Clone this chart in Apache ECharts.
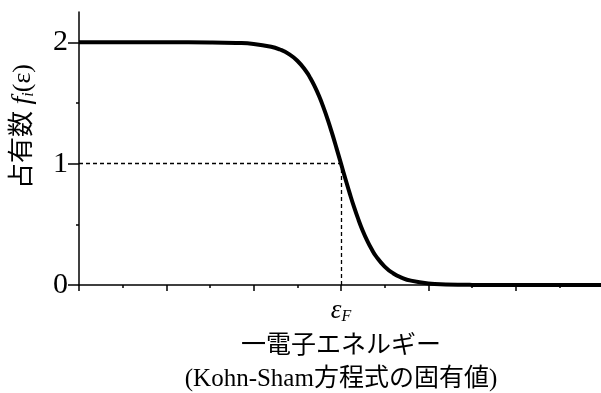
<!DOCTYPE html>
<html>
<head>
<meta charset="utf-8">
<script src="https://cdn.jsdelivr.net/npm/echarts@6/dist/echarts.min.js"></script>
<style>
  html, body { margin: 0; padding: 0; background: #fff; }
  #chart { width: 601px; height: 393px; }
</style>
</head>
<body>
<div id="chart"></div>
<script>
// energy relative to the Fermi level (units of the major tick spacing)
const energies = [-3, -2, -1.5, -1.2, -1, -0.8, -0.7, -0.6, -0.5, -0.4, -0.35, -0.3, -0.25, -0.2, -0.15, -0.1, -0.05, 0,
  0.05, 0.1, 0.15, 0.2, 0.25, 0.3, 0.35, 0.4, 0.5, 0.6, 0.7, 0.8, 1, 1.2, 1.5, 2, 3]
const occupations = [2, 2, 1.999, 1.995, 1.987, 1.964, 1.941, 1.905, 1.848, 1.762, 1.704, 1.635, 1.555, 1.462, 1.359, 1.245, 1.124, 1,
  0.876, 0.755, 0.641, 0.538, 0.445, 0.365, 0.296, 0.238, 0.152, 0.095, 0.059, 0.036, 0.013, 0.005, 0.001, 0, 0]
const yTicks = [0, 1, 2]
const yMinorTicks = [0.5, 1.5]
const fermiLevel = 0
const halfFilled = 1

const serif = '"Liberation Serif", "Noto Sans CJK JP", serif'
const ink = '#000'

const chart = echarts.init(document.getElementById('chart'), null, { renderer: 'canvas' })
chart.setOption({
  backgroundColor: '#fff',
  animation: false,
  grid: { left: 79, right: -2, top: 12, bottom: 108, outerBoundsMode: 'none', containLabel: false },
  xAxis: {
    type: 'value', min: -3, max: 3, interval: 1,
    axisLine: { onZero: false, lineStyle: { color: ink, width: 1.5 } },
    axisTick: { length: 6, lineStyle: { color: ink, width: 1.5 } },
    minorTick: { show: true, splitNumber: 2, length: 3, lineStyle: { color: ink, width: 1.5 } },
    splitLine: { show: false },
    axisLabel: {
      margin: 12,
      formatter: v => v === fermiLevel ? '{e|ε}{s|F}' : '',
      rich: {
        e: { fontFamily: serif, fontStyle: 'italic', fontSize: 27, color: ink },
        s: { fontFamily: serif, fontStyle: 'italic', fontSize: 16, color: ink, verticalAlign: 'bottom', padding: [12, 0, 0, 0] }
      }
    },
    name: '一電子エネルギー\n(Kohn-Sham方程式の固有値)',
    nameLocation: 'middle', nameGap: 38,
    nameTextStyle: { fontFamily: serif, fontSize: 25, color: ink, lineHeight: 33 }
  },
  yAxis: [{
    type: 'value', min: 0, max: 2.25,
    axisLine: { onZero: false, lineStyle: { color: ink, width: 1.5 } },
    axisTick: { length: 11, customValues: yTicks, lineStyle: { color: ink, width: 1.5 } },
    splitLine: { show: false },
    axisLabel: { customValues: yTicks, margin: 11, fontFamily: serif, fontSize: 30, color: ink },
    name: '{a|占有数 }{f|f}{i|i}{a|(ε)}',
    nameLocation: 'middle', nameGap: 42, nameRotate: 90,
    nameTextStyle: {
      padding: [0, 0, 0, 44],
      rich: {
        a: { fontFamily: serif, fontSize: 26, color: ink },
        f: { fontFamily: serif, fontStyle: 'italic', fontSize: 28, color: ink },
        i: { fontFamily: serif, fontStyle: 'italic', fontSize: 16, color: ink, verticalAlign: 'bottom' }
      }
    }
  }, {
    type: 'value', min: 0, max: 2.25, position: 'left',
    axisLine: { show: false, onZero: false },
    axisTick: { length: 3, customValues: yMinorTicks, lineStyle: { color: ink, width: 1.5 } },
    axisLabel: { show: false },
    splitLine: { show: false }
  }],
  series: [{
    type: 'line',
    data: energies.map((e, i) => [e, occupations[i]]),
    smooth: 0.5,
    symbol: 'none',
    lineStyle: { color: ink, width: 4 },
    z: 3,
    markLine: {
      silent: true, symbol: 'none', label: { show: false },
      lineStyle: { color: ink, width: 1.3, type: [4, 3] },
      data: [
        [{ coord: [-3, halfFilled] }, { coord: [fermiLevel, halfFilled] }],
        [{ coord: [fermiLevel, 0] }, { coord: [fermiLevel, halfFilled] }]
      ]
    }
  }]
})
</script>
</body>
</html>
